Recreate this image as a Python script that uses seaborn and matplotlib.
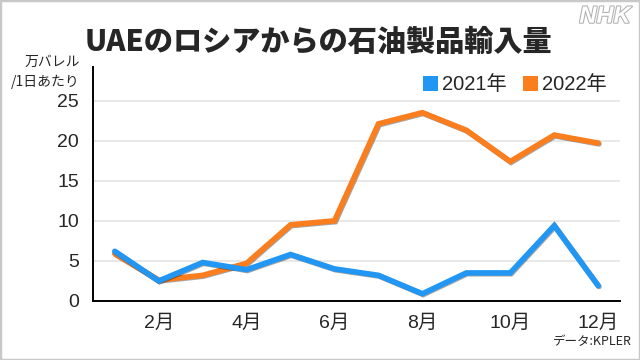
import matplotlib
matplotlib.use("Agg")
import matplotlib.pyplot as plt
import matplotlib.patheffects as pe
from matplotlib.patches import Patch, Rectangle
import pandas as pd
import seaborn as sns

# データ (万バレル/1日あたり)
months = list(range(1, 13))
vol_2021 = [6.2, 2.5, 4.8, 3.9, 5.8, 4.0, 3.2, 0.9, 3.5, 3.5, 9.4, 1.9]
vol_2022 = [5.9, 2.6, 3.2, 4.7, 9.5, 10.0, 22.1, 23.5, 21.3, 17.4, 20.7, 19.7]
series_names = ["2021年", "2022年"]
tick_months = [2, 4, 6, 8, 10, 12]
tick_labels = ["2月", "4月", "6月", "8月", "10月", "12月"]
y_ticks = [0, 5, 10, 15, 20, 25]

colors = {"2021年": "#2196f3", "2022年": "#fa7d1e"}

sns.set_style("white")
plt.rcParams["font.family"] = ["Liberation Sans", "Noto Sans CJK JP"]

df = pd.concat([
    pd.DataFrame({"月": months, "量": vol_2022, "年": series_names[1]}),
    pd.DataFrame({"月": months, "量": vol_2021, "年": series_names[0]}),
])

fig = plt.figure(figsize=(6.4, 3.6), dpi=100)
ax = fig.add_axes([0.145, 0.164, 0.824, 0.65])

# 2022年を先に描いて2021年を上に重ねる
sns.lineplot(data=df, x="月", y="量", hue="年", hue_order=["2022年", "2021年"],
             palette=colors, linewidth=4, legend=False, ax=ax)
for line in ax.lines:
    line.set_solid_joinstyle("miter")
    line.set_path_effects([pe.SimpleLineShadow(offset=(0.6, -0.6), alpha=0.35),
                           pe.Normal()])

ax.set_xlim(0.5, 12.5)
ax.set_ylim(0, 29.2)
ax.set_xticks(tick_months)
ax.set_xticklabels(tick_labels, fontsize=14)
ax.set_yticks(y_ticks)
ax.set_yticklabels([str(v) for v in y_ticks], fontsize=14)
ax.tick_params(axis="both", direction="out", length=5, width=1.3, color="black", pad=5)
ax.grid(True, axis="y", color="#e4e4e4", linewidth=1.2)
ax.set_axisbelow(True)
ax.set_xlabel("")
ax.set_ylabel("")
for s in ["top", "right"]:
    ax.spines[s].set_visible(False)
for s in ["left", "bottom"]:
    ax.spines[s].set_color("black")
    ax.spines[s].set_linewidth(1.4)

# 凡例
handles = [Patch(facecolor=colors[n], edgecolor="none") for n in series_names]
fig.legend(handles, series_names, loc="center right", bbox_to_anchor=(0.96, 0.764),
           ncol=2, frameon=False, fontsize=14.5, handlelength=0.75, handleheight=0.75,
           handletextpad=0.2, columnspacing=0.8, borderaxespad=0)

# タイトルなど
fig.text(0.497, 0.882, "UAEのロシアからの石油製品輸入量", ha="center", va="center",
         fontsize=21, fontweight="black", family=["Noto Sans CJK JP"])
fig.text(0.125, 0.8, "万バレル\n/1日あたり", ha="right", va="center",
         fontsize=10, linespacing=1.45, family=["Noto Sans CJK JP"])
fig.text(0.988, 0.05, "データ:KPLER", ha="right", va="center", fontsize=9,
         family=["Noto Sans CJK JP"])
fig.text(0.985, 0.955, "NHK", ha="right", va="center", fontsize=17,
         fontweight="bold", style="italic", color="white",
         path_effects=[pe.withStroke(linewidth=1.5, foreground="#b0b0b0")])

fig.patches.append(Rectangle((0, 0), 1, 1, transform=fig.transFigure, fill=False,
                             edgecolor="#c8c8c8", linewidth=2.5))

fig.savefig("out.png", dpi=100)
